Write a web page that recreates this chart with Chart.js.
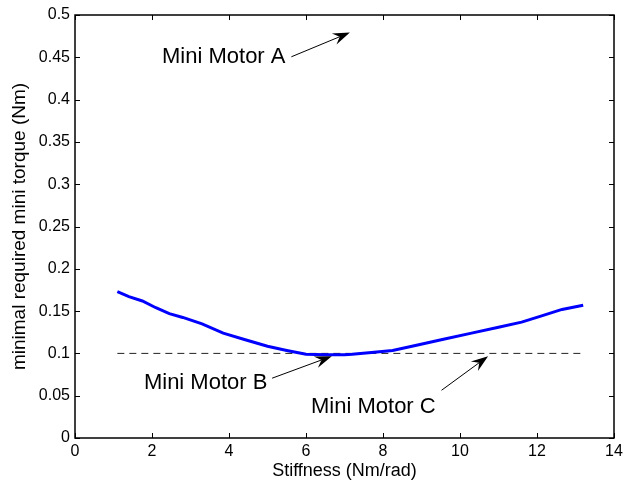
<!DOCTYPE html>
<html>
<head>
<meta charset="utf-8">
<script src="https://cdn.jsdelivr.net/npm/chart.js@4/dist/chart.umd.min.js"></script>
<style>
  html, body { margin: 0; padding: 0; background: #fff; }
  #wrap { width: 628px; height: 482px; }
</style>
</head>
<body>
<div id="wrap"><canvas id="torqueChart" width="628" height="482"></canvas></div>
<script>
// stiffness (Nm/rad) and minimal required mini torque (Nm)
const stiffness = [1.1, 1.4, 1.75, 2.1, 2.45, 2.8, 3.3, 3.85, 4.4, 5.0, 5.5, 6.0, 6.5, 7.0, 7.2, 7.7, 8.25, 8.9, 9.6, 10.3, 11.0, 11.6, 12.1, 12.65, 13.2]
const torque    = [0.173, 0.167, 0.162, 0.154, 0.147, 0.1425, 0.135, 0.124, 0.1165, 0.1085, 0.1035, 0.099, 0.0985, 0.0985, 0.099, 0.101, 0.1035, 0.110, 0.117, 0.124, 0.131, 0.137, 0.144, 0.152, 0.157]

// dashed reference line (motor limit)
const limitX = [1.1, 13.2]
const limitY = [0.1, 0.1]

const xTicks = [0, 2, 4, 6, 8, 10, 12, 14]
const yTicks = [0, 0.05, 0.1, 0.15, 0.2, 0.25, 0.3, 0.35, 0.4, 0.45, 0.5]

// annotations: label anchor (left, baseline), arrow tail, arrow tip - all in data units
const noteLabels = ['Mini Motor A', 'Mini Motor B', 'Mini Motor C']
const noteText   = [[2.26, 0.4438], [1.79, 0.0576], [6.13, 0.0292]]
const noteTail   = [[5.62, 0.4506], [5.12, 0.0707], [9.52, 0.0564]]
const noteTip    = [[7.14, 0.4793], [6.67, 0.0967], [10.73, 0.0967]]

const FONT = "'Liberation Sans', Arial, Helvetica, sans-serif"

function toPoints(xs, ys) {
    let pts = []
    for (let i = 0; i < xs.length; i++) {
        pts.push({x: xs[i], y: ys[i]})
    }
    return pts
}

// box + inward ticks on all four sides
const framePlugin = {
    id: 'frame',
    afterDraw(chart) {
        const ctx = chart.ctx
        const a = chart.chartArea
        const xs = chart.scales.x, ys = chart.scales.y
        const len = 5
        ctx.save()
        ctx.strokeStyle = '#000'
        ctx.lineWidth = 1
        ctx.beginPath()
        xTicks.forEach(v => {
            const px = Math.round(xs.getPixelForValue(v)) + 0.5
            ctx.moveTo(px, a.bottom); ctx.lineTo(px, a.bottom - len)
            ctx.moveTo(px, a.top); ctx.lineTo(px, a.top + len)
        })
        yTicks.forEach(v => {
            const py = Math.round(ys.getPixelForValue(v)) + 0.5
            ctx.moveTo(a.left, py); ctx.lineTo(a.left + len, py)
            ctx.moveTo(a.right, py); ctx.lineTo(a.right - len, py)
        })
        ctx.stroke()
        ctx.lineWidth = 1.5
        ctx.strokeRect(a.left, a.top, a.right - a.left, a.bottom - a.top)
        ctx.restore()
    }
}

// text labels with arrows
const notesPlugin = {
    id: 'notes',
    afterDatasetsDraw(chart) {
        const ctx = chart.ctx
        const xs = chart.scales.x, ys = chart.scales.y
        ctx.save()
        ctx.fillStyle = '#000'
        ctx.strokeStyle = '#000'
        ctx.font = '22px ' + FONT
        ctx.textAlign = 'left'
        ctx.textBaseline = 'alphabetic'
        for (let i = 0; i < noteLabels.length; i++) {
            ctx.fillText(noteLabels[i], xs.getPixelForValue(noteText[i][0]), ys.getPixelForValue(noteText[i][1]))
            const x0 = xs.getPixelForValue(noteTail[i][0]), y0 = ys.getPixelForValue(noteTail[i][1])
            const x1 = xs.getPixelForValue(noteTip[i][0]), y1 = ys.getPixelForValue(noteTip[i][1])
            const ang = Math.atan2(y1 - y0, x1 - x0)
            const c = Math.cos(ang), s = Math.sin(ang)
            const L = 17, W = 6, N = 11
            ctx.lineWidth = 1
            ctx.beginPath()
            ctx.moveTo(x0, y0)
            ctx.lineTo(x1 - c * N, y1 - s * N)
            ctx.stroke()
            ctx.beginPath()
            ctx.moveTo(x1, y1)
            ctx.lineTo(x1 - c * L - s * W, y1 - s * L + c * W)
            ctx.lineTo(x1 - c * N, y1 - s * N)
            ctx.lineTo(x1 - c * L + s * W, y1 - s * L - c * W)
            ctx.closePath()
            ctx.fill()
        }
        ctx.restore()
    }
}

const data = {
    datasets: [{
        data: toPoints(stiffness, torque),
        borderColor: '#0000ff',
        borderWidth: 3,
        pointRadius: 0,
        showLine: true,
        fill: false,
        tension: 0
    }, {
        data: toPoints(limitX, limitY),
        borderColor: '#222',
        borderWidth: 1,
        borderDash: [7, 5],
        pointRadius: 0,
        showLine: true,
        fill: false
    }]
}

const config = {
    type: 'scatter',
    data: data,
    options: {
        responsive: false,
        animation: false,
        layout: {
            padding: {top: 15, right: 14, left: 0, bottom: 0}
        },
        plugins: {
            legend: { display: false },
            tooltip: { enabled: false }
        },
        scales: {
            x: {
                type: 'linear',
                min: 0,
                max: 14,
                afterBuildTicks: axis => { axis.ticks = xTicks.map(v => ({value: v})) },
                afterFit: axis => { axis.height = 44 },
                grid: { display: false, drawTicks: false },
                border: { display: false },
                ticks: {
                    color: '#000',
                    font: { family: FONT, size: 16 },
                    padding: 4,
                    maxRotation: 0,
                    callback: v => String(v)
                },
                title: {
                    display: true,
                    text: 'Stiffness (Nm/rad)',
                    color: '#000',
                    font: { family: FONT, size: 18 },
                    padding: {top: 0, bottom: 0}
                }
            },
            y: {
                type: 'linear',
                min: 0,
                max: 0.5,
                afterBuildTicks: axis => { axis.ticks = yTicks.map(v => ({value: v})) },
                afterFit: axis => { axis.width = 75 },
                grid: { display: false, drawTicks: false },
                border: { display: false },
                ticks: {
                    color: '#000',
                    font: { family: FONT, size: 16 },
                    padding: 5,
                    callback: v => String(parseFloat(v.toFixed(2)))
                },
                title: {
                    display: true,
                    text: 'minimal required mini torque (Nm)',
                    color: '#000',
                    font: { family: FONT, size: 19 },
                    padding: {top: 8, bottom: 0}
                }
            }
        }
    },
    plugins: [framePlugin, notesPlugin]
}

new Chart(document.getElementById('torqueChart'), config)
</script>
</body>
</html>
